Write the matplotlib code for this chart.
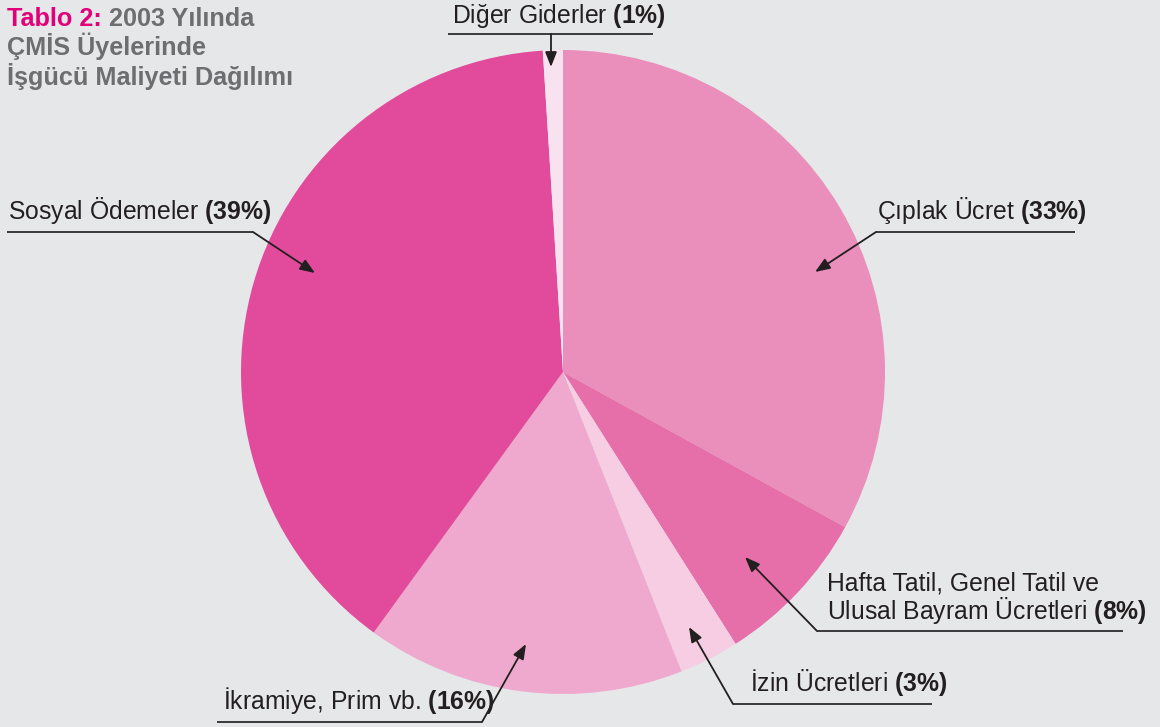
import matplotlib
matplotlib.use("Agg")
import matplotlib.pyplot as plt

W, H = 1160, 727

# ---- data ----
categories = ["Çıplak Ücret", "Hafta Tatil, Genel Tatil ve\nUlusal Bayram Ücretleri",
              "İzin Ücretleri", "İkramiye, Prim vb.", "Sosyal Ödemeler", "Diğer Giderler"]
values = [33, 8, 3, 16, 39, 1]
colors = ["#EA8EBC", "#E66FAA", "#F6CDE2", "#EFA9CE", "#E24B9B", "#F9E2EF"]

plt.rcParams['font.family'] = ['Liberation Sans', 'DejaVu Sans']
plt.rcParams['mathtext.fontset'] = 'custom'
plt.rcParams['mathtext.rm'] = 'Liberation Sans'
plt.rcParams['mathtext.bf'] = 'Liberation Sans:bold'

BG = "#E6E7E8"
TXT = "#231F20"

fig = plt.figure(figsize=(W / 100, H / 100), dpi=100, facecolor=BG)
ax = fig.add_axes([0, 0, 1, 1])
ax.set_facecolor(BG)

cx, cy, R = 563, 372, 322
ax.pie(values, colors=colors, startangle=90, counterclock=False,
       center=(cx, H - cy), radius=R, wedgeprops=dict(linewidth=0))
ax.set_xlim(0, W)
ax.set_ylim(0, H)
ax.set_aspect('equal')
ax.axis('off')


def P(x, y):
    return (x, H - y)


FS = 17.8
# label layout: (text x, baseline y, underline x0, x1, underline y, arrow start x, tip)
layout = [
    (877, 219, 876, 1075, 232, 876, (815, 272)),
    (827, 619, 817, 1123, 631, 817, (745, 557)),
    (750, 691, 733, 932, 704, 733, (689, 627)),
    (223, 709, 217, 482, 722, 482, (526, 644)),
    (8, 219, 7, 253, 232, 253, (315, 273)),
    (452, 23, 448, 653, 34, 551, (551, 67)),
]

for cat, val, (tx, ty, u0, u1, uy, ax0, tip) in zip(categories, values, layout):
    label = cat + r" $\bf{(" + str(val) + r"\%)}$"
    ax.text(*P(tx, ty), label, fontsize=FS, color=TXT, ha='left', va='baseline',
            linespacing=0.96)
    ax.plot([u0, u1], [H - uy, H - uy], color="#3a3a3c", lw=1.4,
            solid_capstyle='butt')
    ax.annotate("", xy=P(*tip), xytext=P(ax0, uy),
                arrowprops=dict(arrowstyle='-|>,head_length=0.9,head_width=0.35',
                                color=TXT, lw=1.3, shrinkA=0, shrinkB=0))

# ---- title ----
fig.canvas.draw()
renderer = fig.canvas.get_renderer()
TFS = 18.2
GRAY = "#6D6E71"
MAG = "#E2007A"
t1 = ax.text(*P(7, 26), "Tablo 2: ", fontsize=TFS, fontweight='bold', color=MAG,
             ha='left', va='baseline')
bb = t1.get_window_extent(renderer)
ax.text(bb.x1, H - 26, "2003 Yılında", fontsize=TFS, fontweight='bold', color=GRAY,
        ha='left', va='baseline')
ax.text(*P(7, 55), "ÇMİS Üyelerinde", fontsize=TFS, fontweight='bold', color=GRAY,
        ha='left', va='baseline')
ax.text(*P(7, 85), "İşgücü Maliyeti Dağılımı", fontsize=TFS, fontweight='bold',
        color=GRAY, ha='left', va='baseline')

fig.savefig("out.png", dpi=100, facecolor=BG)
